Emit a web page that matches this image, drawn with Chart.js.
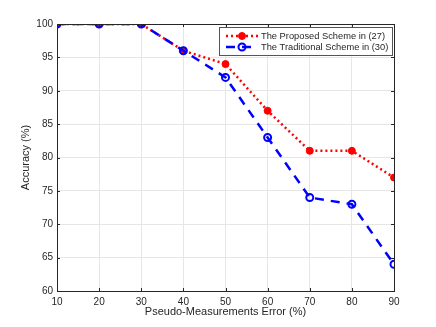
<!DOCTYPE html>
<html>
<head>
<meta charset="utf-8">
<script src="https://cdn.jsdelivr.net/npm/chart.js@4/dist/chart.umd.min.js"></script>
<style>
html,body{margin:0;padding:0;background:#fff;}
#wrap{width:436px;height:327px;position:relative;}
</style>
</head>
<body>
<div id="wrap"><canvas id="c" width="436" height="327"></canvas></div>
<script>
const errors = [10, 20, 30, 40, 50, 60, 70, 80, 90];
const proposed = [100, 100, 100, 96, 94, 87, 81, 81, 77];
const traditional = [100, 100, 100, 96, 92, 83, 74, 73, 64];
const labelProposed = 'The Proposed Scheme in (27)';
const labelTraditional = 'The Traditional Scheme in (30)';
const xTitle = 'Pseudo-Measurements Error (%)';
const yTitle = 'Accuracy (%)';

const FONT = 'Liberation Sans, Arial, Helvetica, sans-serif';
const TXT = '#262626';

const boxPlugin = {
  id: 'boxPlugin',
  afterDatasetsDraw(chart) {
    const {ctx, chartArea: a, scales} = chart;
    ctx.save();
    ctx.strokeStyle = TXT;
    ctx.lineWidth = 1;
    ctx.beginPath();
    scales.x.ticks.forEach(t => {
      const x = Math.round(scales.x.getPixelForValue(t.value)) + 0.5;
      ctx.moveTo(x, a.bottom); ctx.lineTo(x, a.bottom - 3);
      ctx.moveTo(x, a.top); ctx.lineTo(x, a.top + 3);
    });
    scales.y.ticks.forEach(t => {
      const y = Math.round(scales.y.getPixelForValue(t.value)) + 0.5;
      ctx.moveTo(a.left, y); ctx.lineTo(a.left + 3, y);
      ctx.moveTo(a.right, y); ctx.lineTo(a.right - 3, y);
    });
    ctx.stroke();
    ctx.restore();
  },
  afterDraw(chart) {
    const {ctx, chartArea: a} = chart;
    ctx.save();
    ctx.strokeStyle = TXT;
    ctx.lineWidth = 1;
    ctx.strokeRect(Math.round(a.left) + 0.5, Math.round(a.top) + 0.5, Math.round(a.right - a.left), Math.round(a.bottom - a.top));
    const lx = 219.5, ly = 27.5, lw = 173, lh = 28;
    ctx.fillStyle = '#fff';
    ctx.fillRect(lx, ly, lw, lh);
    ctx.strokeStyle = '#555555';
    ctx.lineWidth = 1;
    ctx.strokeRect(lx, ly, lw, lh);
    const rows = [
      {ds: chart.data.datasets[0], y: 36},
      {ds: chart.data.datasets[1], y: 47}
    ];
    rows.forEach(r => {
      const ds = r.ds;
      ctx.strokeStyle = ds.borderColor;
      ctx.lineWidth = ds.borderWidth;
      ctx.setLineDash(ds.borderDash);
      ctx.beginPath();
      ctx.moveTo(226, r.y); ctx.lineTo(258, r.y);
      ctx.stroke();
      ctx.setLineDash([]);
      ctx.beginPath();
      ctx.arc(242, r.y, ds.pointRadius, 0, Math.PI * 2);
      ctx.fillStyle = ds.pointBackgroundColor;
      ctx.fill();
      ctx.lineWidth = ds.pointBorderWidth;
      ctx.strokeStyle = ds.pointBorderColor;
      ctx.stroke();
      ctx.fillStyle = TXT;
      ctx.font = '9.3px ' + FONT;
      ctx.textBaseline = 'middle';
      ctx.textAlign = 'left';
      ctx.fillText(ds.label, 261, r.y);
    });
    ctx.restore();
  }
};

new Chart(document.getElementById('c'), {
  type: 'line',
  data: {
    datasets: [
      {
        label: labelProposed,
        data: errors.map((x, i) => ({x: x, y: proposed[i]})),
        borderColor: '#ff0000',
        borderWidth: 2.5,
        borderDash: [2, 3],
        pointRadius: 3.5,
        pointBackgroundColor: '#ff0000',
        pointBorderColor: '#ff0000',
        pointBorderWidth: 1,
        order: 1,
        tension: 0
      },
      {
        label: labelTraditional,
        data: errors.map((x, i) => ({x: x, y: traditional[i]})),
        borderColor: '#0000ff',
        borderWidth: 2.5,
        borderDash: [9, 7],
        pointRadius: 3.5,
        pointBackgroundColor: 'rgba(0,0,0,0)',
        pointBorderColor: '#0000ff',
        pointBorderWidth: 2,
        order: 0,
        tension: 0
      }
    ]
  },
  options: {
    responsive: false,
    animation: false,
    devicePixelRatio: 1,
    layout: {padding: {top: 24, right: 42, left: 0, bottom: 0}},
    plugins: {legend: {display: false}, tooltip: {enabled: false}},
    scales: {
      x: {
        type: 'linear', min: 10, max: 90,
        ticks: {stepSize: 10, color: TXT, font: {family: FONT, size: 10}, padding: 5, maxRotation: 0},
        grid: {color: '#e6e6e6', drawTicks: false},
        border: {display: false},
        title: {display: true, text: xTitle, color: TXT, font: {family: FONT, size: 11}, padding: {top: 0, bottom: 8}},
        afterFit(s) { s.height = 36; }
      },
      y: {
        type: 'linear', min: 60, max: 100,
        ticks: {stepSize: 5, color: TXT, font: {family: FONT, size: 10}, padding: 4},
        grid: {color: '#e6e6e6', drawTicks: false},
        border: {display: false},
        title: {display: true, text: yTitle, color: TXT, font: {family: FONT, size: 11}, padding: {top: 19, bottom: 0}},
        afterFit(s) { s.width = 57; }
      }
    }
  },
  plugins: [boxPlugin]
});
</script>
</body>
</html>
